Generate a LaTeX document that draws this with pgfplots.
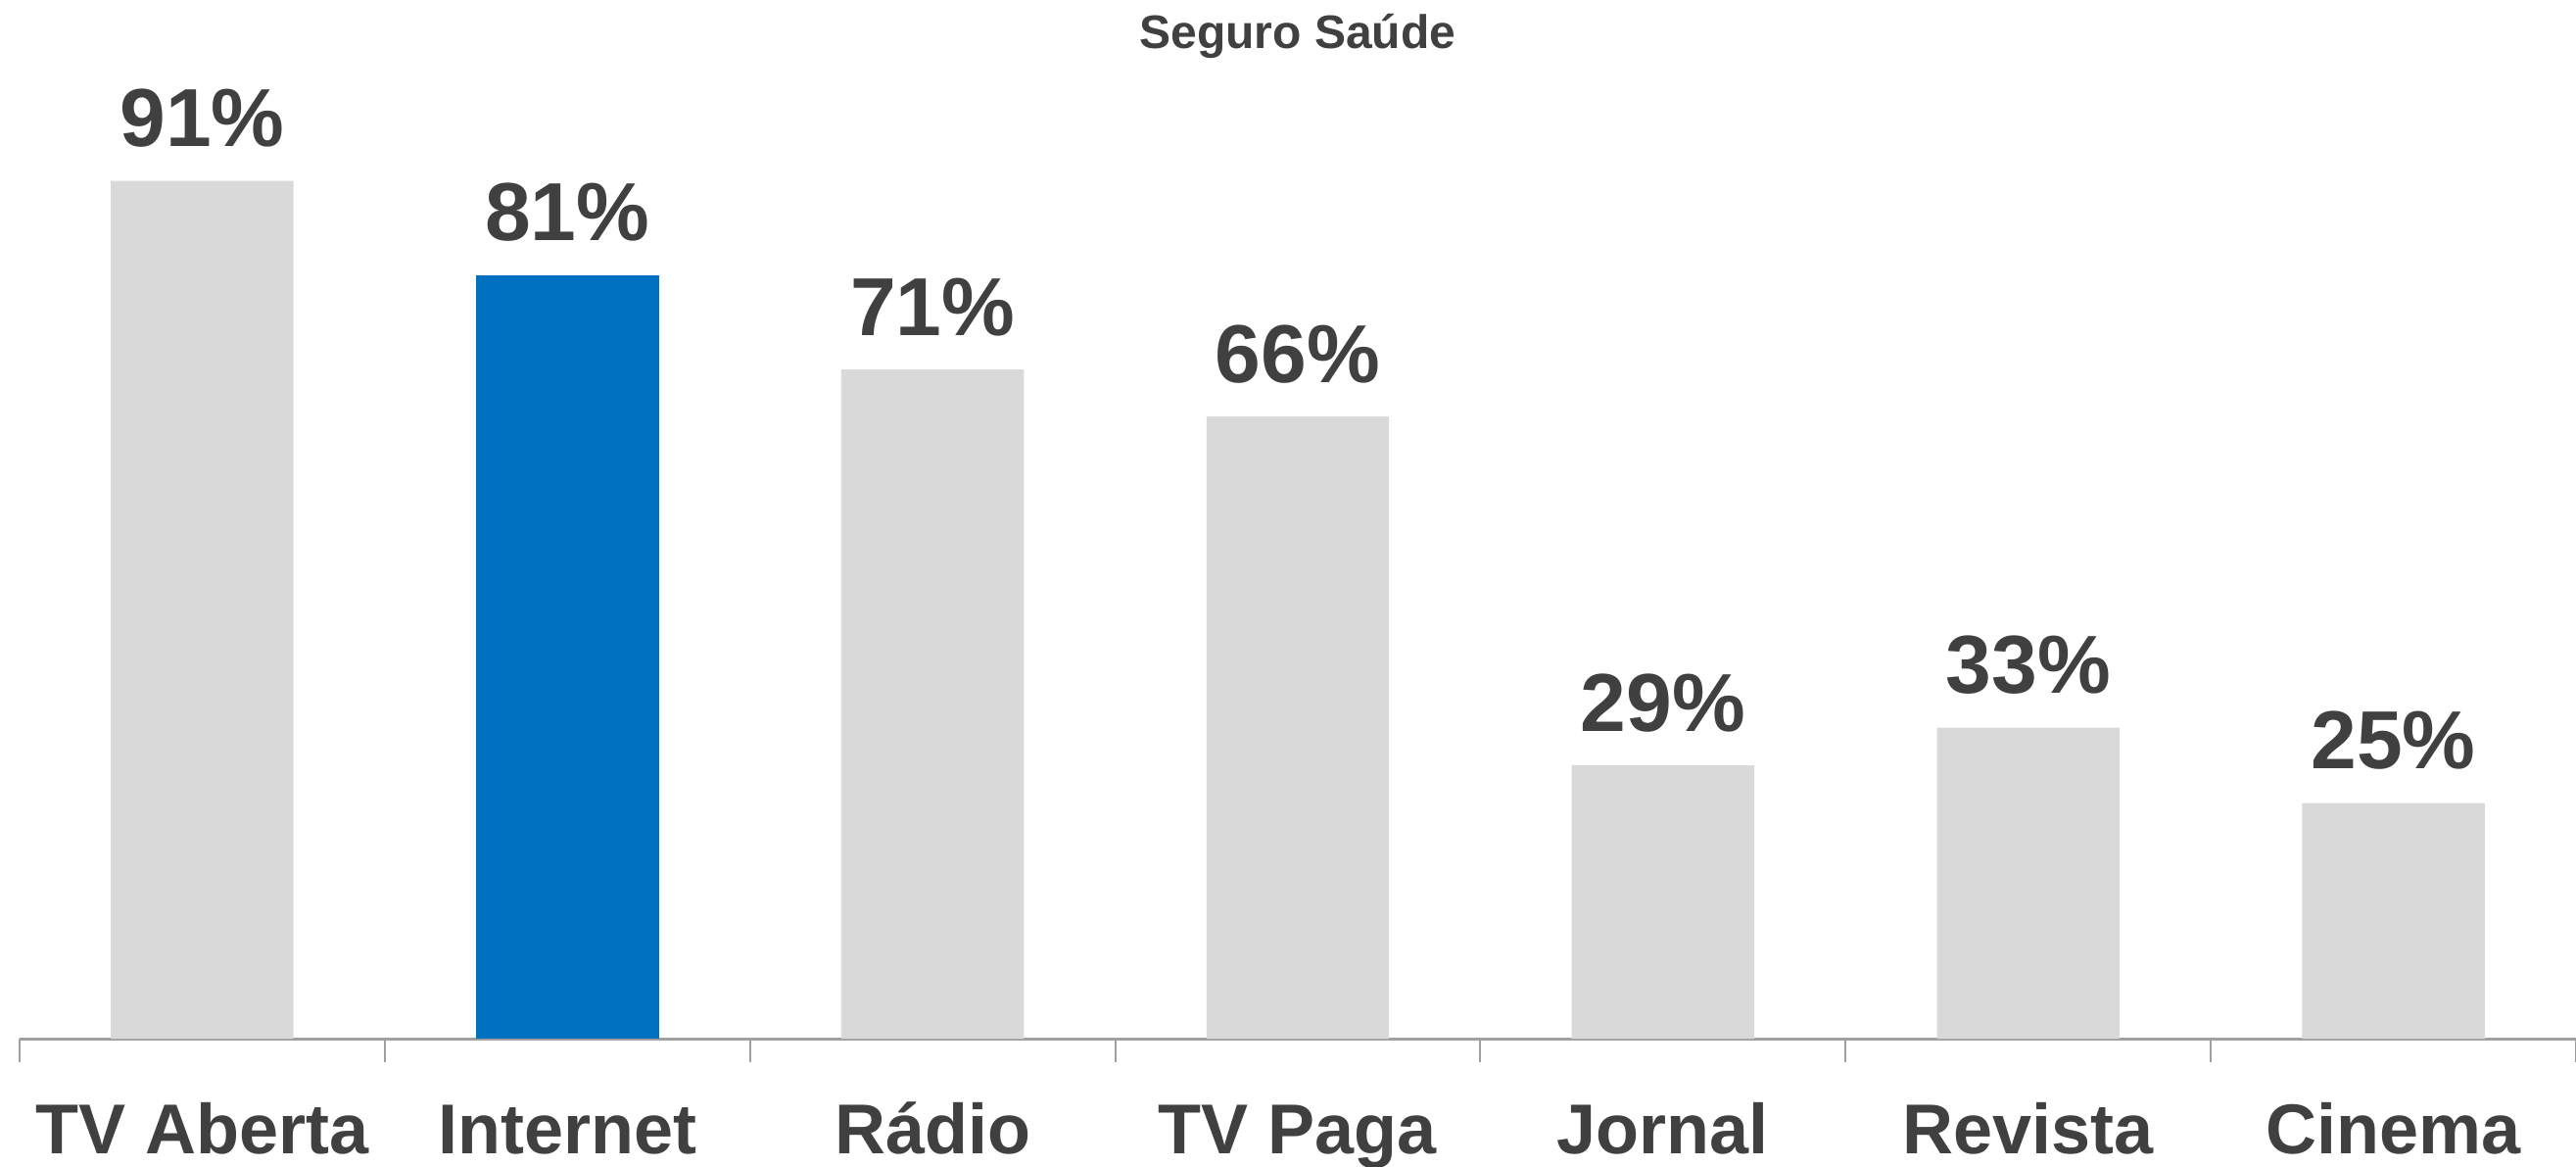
\documentclass[border=0pt]{standalone}
\usepackage{fontspec}
\setmainfont{Liberation Sans}
\usepackage{pgfplots}
\pgfplotsset{compat=1.18}
\definecolor{bargray}{HTML}{D9D9D9}
\definecolor{barblue}{HTML}{0070C0}
\definecolor{txt}{HTML}{404040}
\definecolor{axgray}{HTML}{A0A0A0}
\begin{document}
\begin{tikzpicture}
\path[use as bounding box] (0,0) rectangle (657.5pt,297.5pt);
\begin{axis}[
  at={(5pt,32.5pt)}, anchor=south west,
  scale only axis, width=652.5pt, height=265pt,
  xmin=-0.5, xmax=6.5, ymin=0, ymax=110.2,
  axis x line*=bottom, axis y line=none,
  x axis line style={color=axgray, line width=0.75pt},
  xtick={0,...,6},
  xticklabels={TV Aberta,Internet,Rádio,TV Paga,Jornal,Revista,Cinema},
  major tick length=0pt,
  minor xtick={-0.5,0.5,1.5,2.5,3.5,4.5,5.5,6.5},
  minor tick length=6pt, tick align=outside,
  minor tick style={color=axgray, line width=0.5pt},
  xticklabel style={anchor=base, yshift=-29.25pt, font=\fontsize{18}{20}\selectfont\bfseries, text=txt},
  /pgf/number format/assume math mode=true,
  ybar, bar width=0.5, bar shift=0pt,
  nodes near coords={\pgfmathprintnumber[fixed,precision=0,assume math mode=true]{\pgfplotspointmeta}\%},
  every node near coord/.append style={anchor=base, yshift=8.75pt, font=\fontsize{21}{23}\selectfont\bfseries, text=txt},
  clip=false,
]
\addplot[fill=bargray, draw=none] coordinates {(0,91) (2,71) (3,66) (4,29) (5,33) (6,25)};
\addplot[fill=barblue, draw=none] coordinates {(1,81)};
\node[anchor=base, yshift=-12.5pt, font=\fontsize{12}{14}\selectfont\bfseries, text=txt] at (rel axis cs:0.5,1) {Seguro Saúde};
\end{axis}
\end{tikzpicture}
\end{document}
